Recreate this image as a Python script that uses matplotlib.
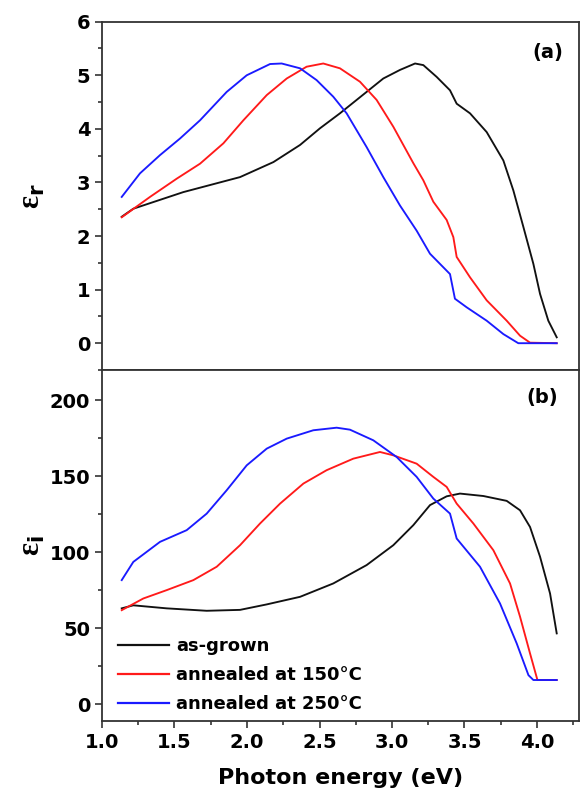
import matplotlib
matplotlib.use("Agg")
import matplotlib.pyplot as plt
from matplotlib.ticker import MultipleLocator

plt.rcParams['font.family'] = ['DejaVu Sans']
plt.rcParams['font.weight'] = 'bold'
plt.rcParams['mathtext.fontset'] = 'custom'
plt.rcParams['mathtext.rm'] = 'Liberation Serif'
plt.rcParams['mathtext.bf'] = 'DejaVu Sans:bold'

# ---- data: panel (a) real part ----
er_black_x = [1.136, 1.216, 1.561, 1.952, 2.182, 2.366, 2.503, 2.641, 2.825, 2.940, 3.055, 3.159,
              3.216, 3.308, 3.400, 3.446, 3.538, 3.653, 3.768, 3.837, 3.906, 3.975, 4.021, 4.078, 4.136]
er_black_y = [2.36, 2.51, 2.82, 3.10, 3.38, 3.70, 4.01, 4.29, 4.69, 4.94, 5.10, 5.22,
              5.19, 4.97, 4.72, 4.47, 4.29, 3.94, 3.41, 2.85, 2.17, 1.48, 0.92, 0.42, 0.11]

er_red_x = [1.136, 1.331, 1.515, 1.676, 1.837, 1.975, 2.136, 2.274, 2.411, 2.526, 2.641, 2.779, 2.894,
            3.009, 3.147, 3.216, 3.285, 3.377, 3.423, 3.446, 3.538, 3.653, 3.791, 3.883, 3.952, 4.136]
er_red_y = [2.35, 2.73, 3.07, 3.35, 3.73, 4.16, 4.63, 4.94, 5.16, 5.22, 5.13, 4.88, 4.54,
            4.04, 3.36, 3.04, 2.64, 2.30, 1.98, 1.61, 1.23, 0.80, 0.42, 0.14, 0.01, 0.0]

er_blue_x = [1.136, 1.262, 1.400, 1.538, 1.676, 1.860, 1.998, 2.159, 2.239, 2.366, 2.480, 2.595, 2.687,
             2.825, 2.940, 3.055, 3.170, 3.262, 3.400, 3.434, 3.515, 3.653, 3.768, 3.871, 4.136]
er_blue_y = [2.73, 3.17, 3.51, 3.82, 4.16, 4.69, 5.00, 5.21, 5.22, 5.13, 4.91, 4.60, 4.29,
             3.66, 3.10, 2.57, 2.10, 1.67, 1.29, 0.83, 0.67, 0.42, 0.17, 0.0, 0.0]

# ---- data: panel (b) imaginary part ----
ei_black_x = [1.136, 1.216, 1.446, 1.722, 1.952, 2.136, 2.366, 2.595, 2.825, 3.009, 3.147, 3.262,
              3.377, 3.469, 3.630, 3.791, 3.883, 3.952, 4.021, 4.090, 4.136]
ei_black_y = [63, 65, 63, 61.4, 62, 65.6, 70.6, 79.4, 91.5, 104.6, 117.8, 131,
              136.8, 138.6, 137, 133.8, 127.6, 116.6, 97, 72.8, 46.5]

ei_red_x = [1.136, 1.285, 1.446, 1.630, 1.791, 1.952, 2.090, 2.228, 2.389, 2.549, 2.733, 2.917,
            3.009, 3.170, 3.285, 3.377, 3.446, 3.561, 3.699, 3.814, 3.883, 3.952, 4.003, 4.136]
ei_red_y = [61.8, 69.5, 75, 81.6, 90.4, 104.6, 118.9, 132, 145.2, 154, 161.6, 166,
            163.8, 158.3, 149.6, 143, 132, 118.9, 101.3, 79.4, 57.5, 33.3, 15.8, 15.8]

ei_blue_x = [1.136, 1.216, 1.400, 1.584, 1.722, 1.860, 1.998, 2.136, 2.274, 2.457, 2.618, 2.710,
             2.871, 3.032, 3.170, 3.285, 3.400, 3.446, 3.607, 3.745, 3.860, 3.941, 3.975, 4.136]
ei_blue_y = [81.6, 93.6, 106.8, 114.5, 125.4, 140.8, 157.2, 168.2, 174.8, 180.3, 182, 180.7,
             173.7, 162.7, 149.6, 135.3, 125.4, 109, 90.4, 66.2, 39.9, 19, 15.8, 15.8]

labels = ["as-grown", "annealed at 150°C", "annealed at 250°C"]
colors = ["#111111", "#ff1a1a", "#1a1aff"]

W, H = 580, 795
fig = plt.figure(figsize=(W / 100, H / 100), dpi=100)

left = 102 / W
width = (579 - 102) / W
ax1 = fig.add_axes([left, 1 - 370 / H, width, (370 - 21.7) / H])
ax2 = fig.add_axes([left, 1 - 720.7 / H, width, (720.7 - 370) / H])

lw = 1.35
for xs, ys, c in [(er_black_x, er_black_y, colors[0]), (er_red_x, er_red_y, colors[1]),
                  (er_blue_x, er_blue_y, colors[2])]:
    ax1.plot(xs, ys, color=c, lw=lw)
for xs, ys, c, lab in [(ei_black_x, ei_black_y, colors[0], labels[0]),
                       (ei_red_x, ei_red_y, colors[1], labels[1]),
                       (ei_blue_x, ei_blue_y, colors[2], labels[2])]:
    ax2.plot(xs, ys, color=c, lw=lw, label=lab)

xmax = 1 + 477 / 145
for ax in (ax1, ax2):
    ax.set_xlim(1.0, xmax)
    for s in ax.spines.values():
        s.set_linewidth(1.3)
        s.set_color('#333333')
    ax.tick_params(which='both', direction='out', color='#333333', width=1.2,
                   labelsize=14, right=False, top=False)
    ax.tick_params(which='major', length=5)
    ax.tick_params(which='minor', length=3)

ax1.set_ylim(-0.5, 6)
ax1.yaxis.set_major_locator(MultipleLocator(1))
ax1.yaxis.set_minor_locator(MultipleLocator(0.5))
ax1.tick_params(axis='x', which='both', bottom=False, labelbottom=False)

ax2.set_ylim(-11, 220)
ax2.yaxis.set_major_locator(MultipleLocator(50))
ax2.yaxis.set_minor_locator(MultipleLocator(25))
ax2.xaxis.set_major_locator(MultipleLocator(0.5))
ax2.xaxis.set_minor_locator(MultipleLocator(0.25))
ax2.xaxis.set_major_formatter(matplotlib.ticker.FormatStrFormatter('%.1f'))

ax1.set_ylabel(r'$\mathrm{ε}_\mathbf{r}$', fontsize=22)
ax2.set_ylabel(r'$\mathrm{ε}_\mathbf{i}$', fontsize=22)
ax1.yaxis.set_label_coords(-0.115, 0.5)
ax2.yaxis.set_label_coords(-0.115, 0.5)
ax2.set_xlabel('Photon energy (eV)', fontsize=16, fontweight='bold', labelpad=12)

ax1.text(0.935, 0.913, '(a)', transform=ax1.transAxes, ha='center', va='center',
         fontsize=14, fontweight='bold')
ax2.text(0.922, 0.923, '(b)', transform=ax2.transAxes, ha='center', va='center',
         fontsize=14, fontweight='bold')

leg = ax2.legend(loc='lower left', bbox_to_anchor=(0.0, -0.025), frameon=False,
                 fontsize=13, handlelength=2.8, handletextpad=0.4, labelspacing=0.62,
                 borderaxespad=0.5)
for t in leg.get_texts():
    t.set_fontweight('bold')
for l in leg.get_lines():
    l.set_linewidth(1.6)

fig.savefig('out.png', dpi=100)
